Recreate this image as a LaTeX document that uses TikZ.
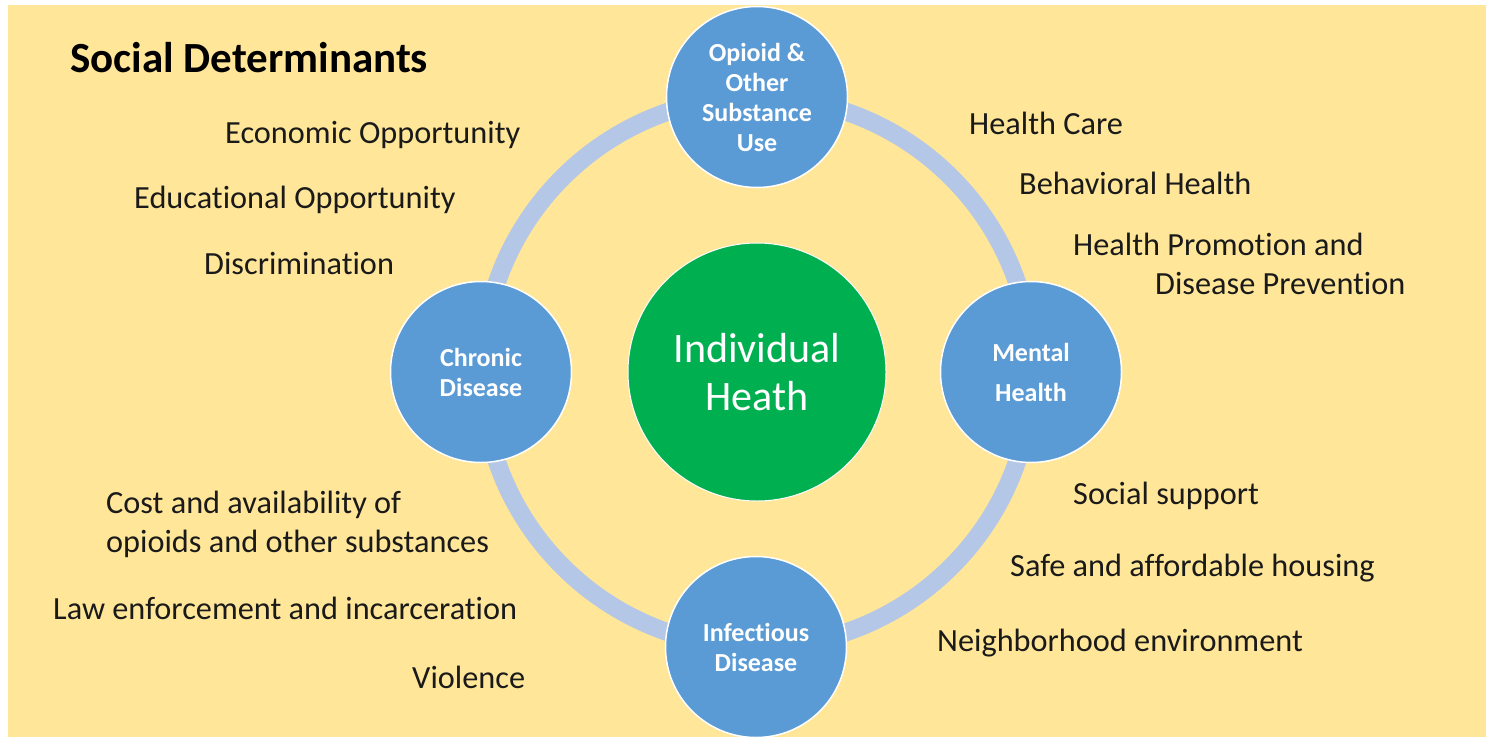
\documentclass[tikz,border=0pt]{standalone}
\usepackage{fontspec}
\setmainfont{Carlito}[Ligatures=NoCommon]
\definecolor{bgyellow}{HTML}{FFE699}
\definecolor{ringblue}{HTML}{B4C7E7}
\definecolor{nodeblue}{HTML}{5B9BD5}
\definecolor{hubgreen}{HTML}{00B050}
\definecolor{txt}{HTML}{1A1A1A}
\tikzset{
  sd/.style={anchor=base west, inner sep=0pt, text=txt, font=\fontsize{32.3}{39}\selectfont, align=left},
  topic/.style={circle, minimum size=181pt, inner sep=0pt, fill=nodeblue, draw=white, line width=1.5pt,
    text=white, font=\bfseries\fontsize{26}{30}\selectfont, align=center},
  hub/.style={circle, minimum size=258pt, inner sep=0pt, fill=hubgreen, draw=white, line width=1pt,
    text=white, font=\fontsize{42}{48}\selectfont, align=center},
}
\begin{document}
\begin{tikzpicture}[x=1pt,y=-1pt]
\useasboundingbox (0,0) rectangle (1486,737);
\fill[bgyellow] (8,5) rectangle (1486,737);
\coordinate (c) at (757,372);
\draw[ringblue, line width=18pt] (c) circle (275);
\node[hub] (ih) at (c) {Individual\\Heath};
\node[topic] (op) at (757,97) {Opioid \&\\Other\\Substance\\Use};
\node[topic] (cd) at (481,372) {Chronic\\Disease};
\node[topic] (mh) at (1031,372) {Mental\\[10pt]Health};
\node[topic] (id) at (756,647) {Infectious\\Disease};
\node[anchor=base west, inner sep=0pt, text=black, font=\bfseries\fontsize{43}{48}\selectfont] (title) at (70,72) {Social Determinants};
\node[sd] (eco) at (225,143) {Economic Opportunity};
\node[sd] (edu) at (134,208) {Educational Opportunity};
\node[sd] (dis) at (204,274) {Discrimination};
\node[sd] (hc) at (969,134) {Health Care};
\node[sd] (bh) at (1019,194) {Behavioral Health};
\node[sd] (hp) at (1073,294) {Health Promotion and\\\hspace*{82pt}Disease Prevention};
\node[sd] (ss) at (1073,504) {Social support};
\node[sd] (sah) at (1010,576) {Safe and affordable housing};
\node[sd] (ne) at (937,651) {Neighborhood environment};
\node[sd] (cost) at (106,552) {Cost and availability of\\opioids and other substances};
\node[sd] (law) at (53,619) {Law enforcement and incarceration};
\node[sd] (vio) at (412,688) {Violence};
\end{tikzpicture}
\end{document}
